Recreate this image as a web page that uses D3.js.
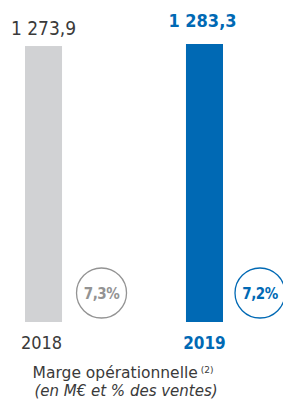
<!DOCTYPE html>
<html>
<script src="https://d3js.org/d3.v7.min.js"></script>
<style>
  body { margin: 0; background: #fff; }
  text { font-family: "DejaVu Sans Condensed", "DejaVu Sans", sans-serif; font-stretch: condensed; }
</style>
<body>
<svg width="283" height="400"></svg>
<script>
// data
var years = ["2018", "2019"];
var values = [1273.9, 1283.3];
var valueLabels = ["1 273,9", "1 283,3"];
var pctLabels = ["7,3%", "7,2%"];
var colors = ["#d1d2d4", "#0069b4"];
var textColors = ["#3a3a3a", "#0069b4"];
var circleColors = ["#939393", "#0069b4"];

var svg = d3.select("svg");

var x = d3.scaleBand().domain(years).range([25, 223]).paddingInner(0.77).paddingOuter(0);
var y = d3.scaleLinear().domain([0, 1283.3]).range([322, 44]);

var idx = d3.range(years.length);

svg.selectAll("rect.bar")
  .data(idx)
  .enter()
  .append("rect")
    .attr("class", "bar")
    .attr("x", function(i){ return x(years[i]); })
    .attr("y", function(i){ return y(values[i]); })
    .attr("width", x.bandwidth())
    .attr("height", function(i){ return y(0) - y(values[i]); })
    .style("fill", function(i){ return colors[i]; });

// value labels above bars
svg.selectAll("text.val")
  .data(idx)
  .enter()
  .append("text")
    .attr("class", "val")
    .attr("x", function(i){ return x(years[i]) + x.bandwidth() / 2 + (i == 0 ? 0 : -2); })
    .attr("y", function(i){ return i == 0 ? 35 : 27; })
    .attr("text-anchor", "middle")
    .style("font-size", function(i){ return i == 0 ? "19px" : "18px"; })
    .style("font-weight", function(i){ return i == 0 ? 400 : 700; })
    .style("fill", function(i){ return textColors[i]; })
    .text(function(i){ return valueLabels[i]; });

// percent circles
var cxOff = [39.5, 37];
svg.selectAll("circle.pct")
  .data(idx)
  .enter()
  .append("circle")
    .attr("class", "pct")
    .attr("cx", function(i){ return x(years[i]) + x.bandwidth() + cxOff[i]; })
    .attr("cy", 293)
    .attr("r", 25)
    .style("fill", "none")
    .style("stroke", function(i){ return circleColors[i]; })
    .style("stroke-width", 1.3);

svg.selectAll("text.pct")
  .data(idx)
  .enter()
  .append("text")
    .attr("class", "pct")
    .attr("x", function(i){ return x(years[i]) + x.bandwidth() + cxOff[i]; })
    .attr("y", 299)
    .attr("text-anchor", "middle")
    .style("font-size", "15px")
    .style("font-weight", 700)
    .style("letter-spacing", "-0.5px")
    .style("fill", function(i){ return circleColors[i]; })
    .text(function(i){ return pctLabels[i]; });

// year labels
svg.selectAll("text.year")
  .data(idx)
  .enter()
  .append("text")
    .attr("class", "year")
    .attr("x", function(i){ return x(years[i]) + x.bandwidth() / 2 + (i == 0 ? -2 : 0); })
    .attr("y", 349)
    .attr("text-anchor", "middle")
    .style("font-size", function(i){ return i == 0 ? "18px" : "17px"; })
    .style("font-weight", function(i){ return i == 0 ? 400 : 700; })
    .style("fill", function(i){ return textColors[i]; })
    .text(function(i){ return years[i]; });

// caption
var cap = svg.append("text")
  .attr("x", 123)
  .attr("y", 378)
  .attr("text-anchor", "middle")
  .style("font-family", "'DejaVu Sans', sans-serif")
  .style("font-stretch", "normal")
  .style("font-size", "15.5px")
  .style("fill", "#3a3a3a");
cap.append("tspan").text("Marge opérationnelle");
cap.append("tspan").attr("dy", -5).style("font-size", "9px").text(" (2)");

svg.append("text")
  .attr("x", 126)
  .attr("y", 396)
  .attr("text-anchor", "middle")
  .style("font-family", "'DejaVu Sans', sans-serif")
  .style("font-stretch", "normal")
  .style("font-size", "15px")
  .style("font-style", "italic")
  .style("fill", "#3a3a3a")
  .text("(en M€ et % des ventes)");
</script>
</body>
</html>
